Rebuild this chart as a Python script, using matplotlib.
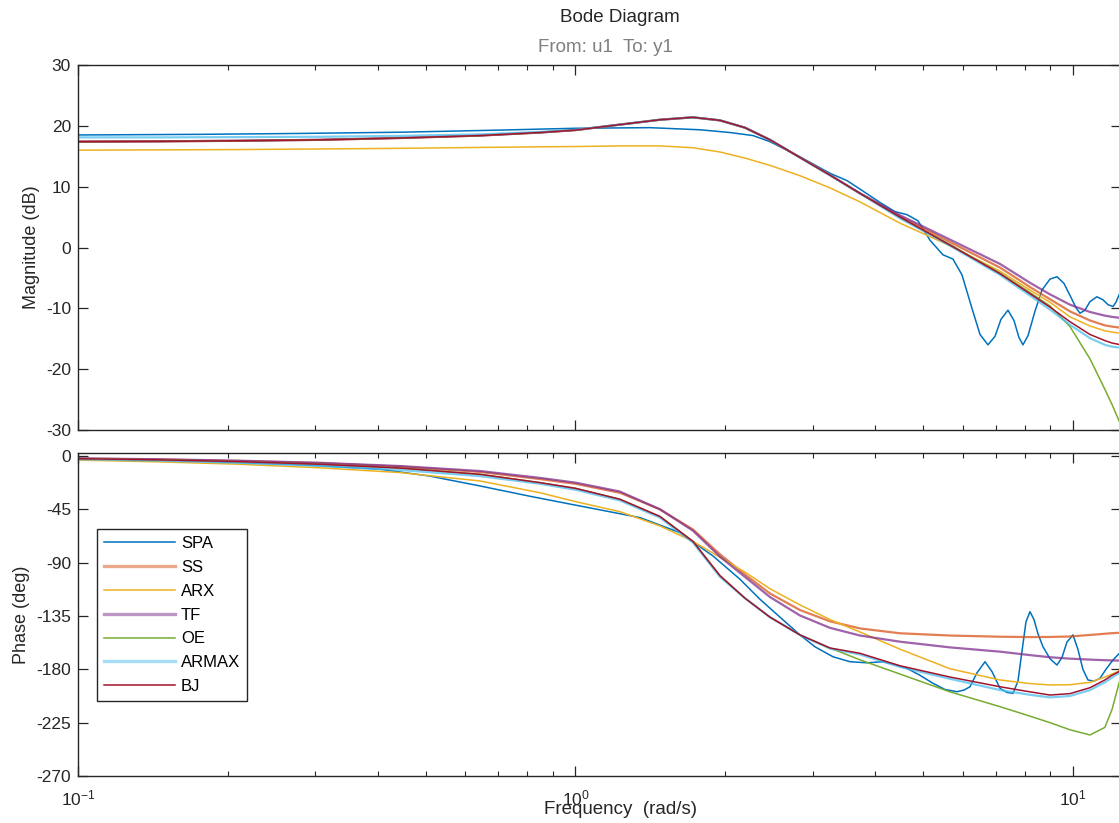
import matplotlib
matplotlib.use("Agg")
import matplotlib.pyplot as plt

plt.rcParams['font.family'] = ['Liberation Sans', 'DejaVu Sans']
plt.rcParams['axes.unicode_minus'] = False

# shared frequency grid (rad/s) for the parametric models
w = [0.100, 0.1462, 0.2116, 0.3064, 0.4438, 0.6427, 0.8483, 1.0, 1.228, 1.478,
     1.722, 1.952, 2.191, 2.460, 2.827, 3.248, 3.732, 4.491, 5.659, 7.134,
     8.196, 8.990, 9.863, 10.82, 11.59, 11.98, 12.5]

# magnitude (dB)
mag_ss = [17.4, 17.45, 17.55, 17.7, 18.0, 18.4, 18.9, 19.3, 20.2, 21.0,
          21.4, 20.9, 19.7, 17.7, 14.8, 11.9, 8.9, 5.1, 0.9, -3.3,
          -6.5, -8.5, -10.5, -12.0, -12.8, -13.0, -13.2]
mag_arx = [16.0, 16.05, 16.1, 16.2, 16.3, 16.45, 16.55, 16.6, 16.7, 16.7,
           16.4, 15.7, 14.7, 13.5, 11.8, 9.8, 7.5, 4.0, 0.3, -3.9,
           -7.0, -9.0, -11.4, -12.9, -13.7, -13.9, -14.1]
mag_tf = [17.4, 17.45, 17.55, 17.7, 18.0, 18.4, 18.9, 19.3, 20.2, 21.0,
          21.4, 20.9, 19.7, 17.7, 14.8, 11.9, 8.9, 5.3, 1.3, -2.7,
          -5.8, -7.7, -9.4, -10.6, -11.2, -11.4, -11.6]
mag_oe = [17.4, 17.45, 17.55, 17.7, 18.0, 18.4, 18.9, 19.3, 20.2, 21.0,
          21.4, 20.9, 19.7, 17.7, 14.8, 11.9, 8.9, 4.9, 0.5, -4.2,
          -7.4, -9.6, -13.0, -18.3, -23.3, -25.8, -29.3]
mag_armax = [18.1, 18.1, 18.15, 18.2, 18.35, 18.6, 19.0, 19.35, 20.2, 21.0,
             21.4, 20.9, 19.7, 17.7, 14.8, 11.9, 8.9, 4.8, 0.3, -4.5,
             -7.9, -10.2, -12.7, -14.9, -16.0, -16.3, -16.5]
mag_bj = [17.4, 17.45, 17.55, 17.7, 18.0, 18.4, 18.9, 19.3, 20.2, 21.0,
          21.4, 20.9, 19.7, 17.7, 14.8, 11.9, 8.9, 5.0, 0.4, -4.3,
          -7.6, -9.8, -12.2, -14.3, -15.3, -15.7, -16.0]

# phase (deg)
ph_ss = [-2.2, -3.0, -4.3, -6.0, -9.0, -13.5, -19.5, -23.5, -31.0, -45.0,
         -62.0, -83.0, -100.0, -116.0, -130.0, -139.5, -145.5, -149.6, -151.5, -152.5,
         -152.8, -152.7, -152.3, -151.0, -150.0, -149.5, -149.1]
ph_arx = [-3.5, -5.0, -7.0, -10.0, -14.0, -21.1, -31.0, -38.5, -47.0, -59.0,
          -72.0, -85.5, -98.0, -112.0, -125.7, -138.0, -148.5, -163.0, -179.5, -189.0,
          -192.0, -193.2, -193.0, -191.0, -186.5, -184.0, -180.6]
ph_tf = [-2.0, -2.8, -4.0, -5.8, -8.5, -12.7, -18.5, -22.5, -30.0, -45.0,
         -63.0, -85.0, -102.0, -119.0, -134.6, -145.0, -151.5, -156.7, -161.5, -165.1,
         -168.0, -169.8, -171.0, -171.8, -172.3, -172.5, -172.7]
ph_oe = [-2.3, -3.3, -4.8, -7.0, -10.2, -15.5, -22.5, -27.3, -36.5, -51.0,
         -72.0, -101.0, -120.0, -136.0, -151.0, -162.0, -172.0, -184.0, -199.0, -211.5,
         -219.5, -225.0, -231.0, -235.4, -229.0, -214.0, -185.0]
ph_armax = [-2.8, -4.0, -5.8, -8.3, -11.8, -17.0, -23.5, -28.5, -37.5, -52.0,
            -73.0, -102.0, -120.0, -136.0, -151.0, -162.5, -167.5, -178.0, -188.0, -197.5,
            -201.5, -203.7, -202.5, -197.5, -191.0, -187.0, -182.0]
ph_bj = [-2.3, -3.3, -4.8, -7.0, -10.2, -15.5, -22.5, -27.3, -36.5, -51.0,
         -72.0, -101.0, -120.0, -136.0, -151.0, -162.0, -166.5, -177.0, -186.5, -194.7,
         -199.0, -201.7, -200.5, -195.5, -189.0, -185.0, -181.0]

# SPA (spectral estimate), own frequency grids
w_spa_mag = [0.100, 0.1758, 0.2794, 0.4438, 0.7050, 1.0, 1.411, 1.780, 2.045, 2.274,
             2.460, 2.827, 3.248, 3.513, 3.732, 4.094, 4.387, 4.638, 4.880, 5.159,
             5.479, 5.738, 5.983, 6.266, 6.504, 6.749, 6.971, 7.167, 7.402, 7.611,
             7.789, 7.934, 8.120, 8.387, 8.663, 8.990, 9.287, 9.592, 9.908, 10.14,
             10.33, 10.57, 10.82, 11.17, 11.49, 11.76, 12.04, 12.20, 12.5]
mag_spa = [18.5, 18.6, 18.75, 18.95, 19.3, 19.6, 19.7, 19.35, 18.9, 18.4,
           17.4, 14.9, 12.2, 11.0, 9.6, 7.4, 5.9, 5.4, 4.4, 1.2,
           -1.2, -1.9, -4.5, -10.0, -14.3, -16.0, -14.6, -11.8, -10.3, -12.0,
           -14.8, -16.0, -14.5, -10.5, -7.0, -5.2, -4.8, -5.9, -8.2, -9.9,
           -10.8, -10.3, -8.9, -8.1, -8.6, -9.4, -9.7, -9.0, -7.0]

w_spa_ph = [0.100, 0.1758, 0.2794, 0.4046, 0.5099, 0.6427, 0.8100, 1.021, 1.348, 1.622,
            1.890, 2.141, 2.349, 2.577, 2.827, 3.030, 3.293, 3.563, 3.855, 4.151,
            4.387, 4.638, 4.925, 5.231, 5.530, 5.845, 6.039, 6.209, 6.412, 6.656,
            6.876, 7.134, 7.367, 7.576, 7.752, 7.897, 8.045, 8.196, 8.349, 8.505,
            8.703, 8.990, 9.287, 9.504, 9.726, 10.0, 10.23, 10.47, 10.72, 11.02,
            11.33, 11.65, 12.04, 12.5]
ph_spa = [-2.5, -4.5, -7.5, -11.2, -17.0, -25.3, -34.0, -42.2, -52.0, -64.7,
          -84.4, -104.0, -120.9, -136.0, -151.0, -161.0, -169.4, -173.6, -174.5, -173.6,
          -176.0, -179.2, -185.0, -191.8, -197.0, -198.9, -197.5, -194.7, -183.0, -173.6,
          -182.0, -196.0, -199.5, -200.3, -190.0, -165.0, -140.0, -131.4, -138.0, -150.0,
          -160.9, -171.0, -176.4, -170.0, -157.0, -151.0, -163.0, -180.0, -189.0, -190.0,
          -187.6, -180.0, -172.0, -165.0]

labels = ['SPA', 'SS', 'ARX', 'TF', 'OE', 'ARMAX', 'BJ']
colors = ['#0072BD', '#D95319', '#EDB120', '#7E2F8E', '#77AC30', '#4DBEEE', '#A2142F']
thick = [False, True, False, True, False, True, False]

mags = [mag_spa, mag_ss, mag_arx, mag_tf, mag_oe, mag_armax, mag_bj]
phs = [ph_spa, ph_ss, ph_arx, ph_tf, ph_oe, ph_armax, ph_bj]

W, H = 1119, 823
fig = plt.figure(figsize=(W / 100, H / 100), dpi=100)
left = 78 / W
width = (1121 - 78) / W
ax1 = fig.add_axes([left, 1 - 430 / H, width, 365 / H])
ax2 = fig.add_axes([left, 1 - 776 / H, width, 323 / H])

for i in range(len(labels)):
    wm = w_spa_mag if i == 0 else w
    wp = w_spa_ph if i == 0 else w
    if thick[i]:
        kw = dict(lw=1.6, alpha=0.75)
    else:
        kw = dict(lw=1.1)
    ax1.plot(wm, mags[i], color=colors[i], **kw)
    ax2.plot(wp, phs[i], color=colors[i], label=labels[i], **kw)

dark = '#262626'
for ax in (ax1, ax2):
    ax.set_xscale('log')
    ax.set_xlim(0.1, 12.49)
    ax.tick_params(which='both', direction='in', top=True, right=True,
                   colors=dark, labelsize=12.5, pad=5)
    ax.tick_params(which='major', length=7, width=0.9)
    ax.tick_params(which='minor', length=3.5, width=0.8)
    for s in ax.spines.values():
        s.set_color(dark)
        s.set_linewidth(1.0)

ax1.set_ylim(-30, 30)
ax1.set_yticks(range(-30, 31, 10))
ax1.tick_params(labelbottom=False)

ax2.set_ylim(-270, 2.5)
ax2.set_yticks(range(-270, 1, 45))
ax2.set_xticks([0.1, 1, 10])
ax2.tick_params(axis='x', which='major', pad=9)

fig.text(620 / W, 1 - 18 / H, 'Bode Diagram', ha='center', va='center',
         fontsize=13.5, color=dark)
fig.text(605 / W, 1 - 47 / H, 'From: u1  To: y1', ha='center', va='center',
         fontsize=13.5, color='#808080')
fig.text(32 / W, 1 - 247 / H, 'Magnitude (dB)', rotation=90, ha='center',
         va='center', fontsize=13, color=dark)
fig.text(22 / W, 1 - 615 / H, 'Phase (deg)', rotation=90, ha='center',
         va='center', fontsize=13, color=dark)
# the 10^0 tick label sits on this label in the original as well
fig.text(620 / W, 1 - 809 / H, 'Frequency  (rad/s)', ha='center', va='center',
         fontsize=13.5, color=dark)

leg = ax2.legend(loc='upper left', bbox_to_anchor=(97 / W, 1 - 529 / H),
                 bbox_transform=fig.transFigure, borderaxespad=0,
                 fontsize=12, handlelength=4.25, handletextpad=0.36,
                 labelspacing=0.53, fancybox=False, framealpha=1,
                 edgecolor=dark, borderpad=0.42)
leg.get_frame().set_linewidth(1.0)
for line, t in zip(leg.get_lines(), thick):
    if t:
        line.set_linewidth(2.4)
        line.set_alpha(0.5)

fig.savefig('out.png', dpi=100)
